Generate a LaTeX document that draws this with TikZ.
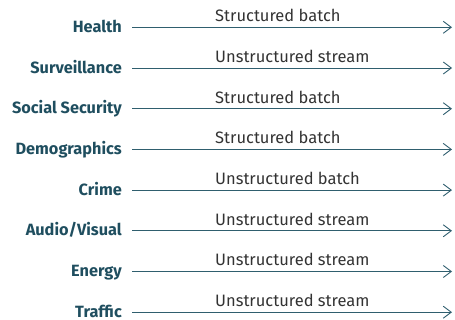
\documentclass[tikz,border=0pt]{standalone}
\usepackage{fontspec}
\setmainfont{Fira Sans}
\usetikzlibrary{arrows.meta}
\definecolor{lab}{HTML}{1F4E5F}
\definecolor{ln}{HTML}{2F5E6E}
\definecolor{etxt}{HTML}{333333}
\tikzset{
  src/.style={anchor=base east, font=\fontsize{16.3}{18}\selectfont\bfseries, text=lab, inner sep=0pt},
  flow/.style={draw=ln, line width=0.9pt, -{Straight Barb[length=8pt,width=12pt,line width=0.9pt]}},
  elab/.style={anchor=base west, font=\fontsize{16.5}{18}\selectfont, text=etxt, inner sep=0pt},
}
\begin{document}
\begin{tikzpicture}[x=1pt,y=-1pt]
\useasboundingbox (0,0) rectangle (455,320);
\foreach \i/\name/\lbl [count=\k from 0] in {
  a/Health/Structured batch,
  b/Surveillance/Unstructured stream,
  c/Social Security/Structured batch,
  d/Demographics/Structured batch,
  e/Crime/Unstructured batch,
  f/Audio\slash Visual/Unstructured stream,
  g/Energy/Unstructured stream,
  h/Traffic/Unstructured stream}{
  \pgfmathsetmacro{\yy}{27.3+40.7*\k}
  \node[src] (s\i) at (122,\yy+5.2) {\name};
  \coordinate (b\i) at (132,\yy);
  \coordinate (t\i) at (452,\yy);
  \draw[flow] (b\i) -- (t\i);
  \node[elab] (l\i) at (215,\yy-5.5) {\lbl};
}
\end{tikzpicture}
\end{document}
